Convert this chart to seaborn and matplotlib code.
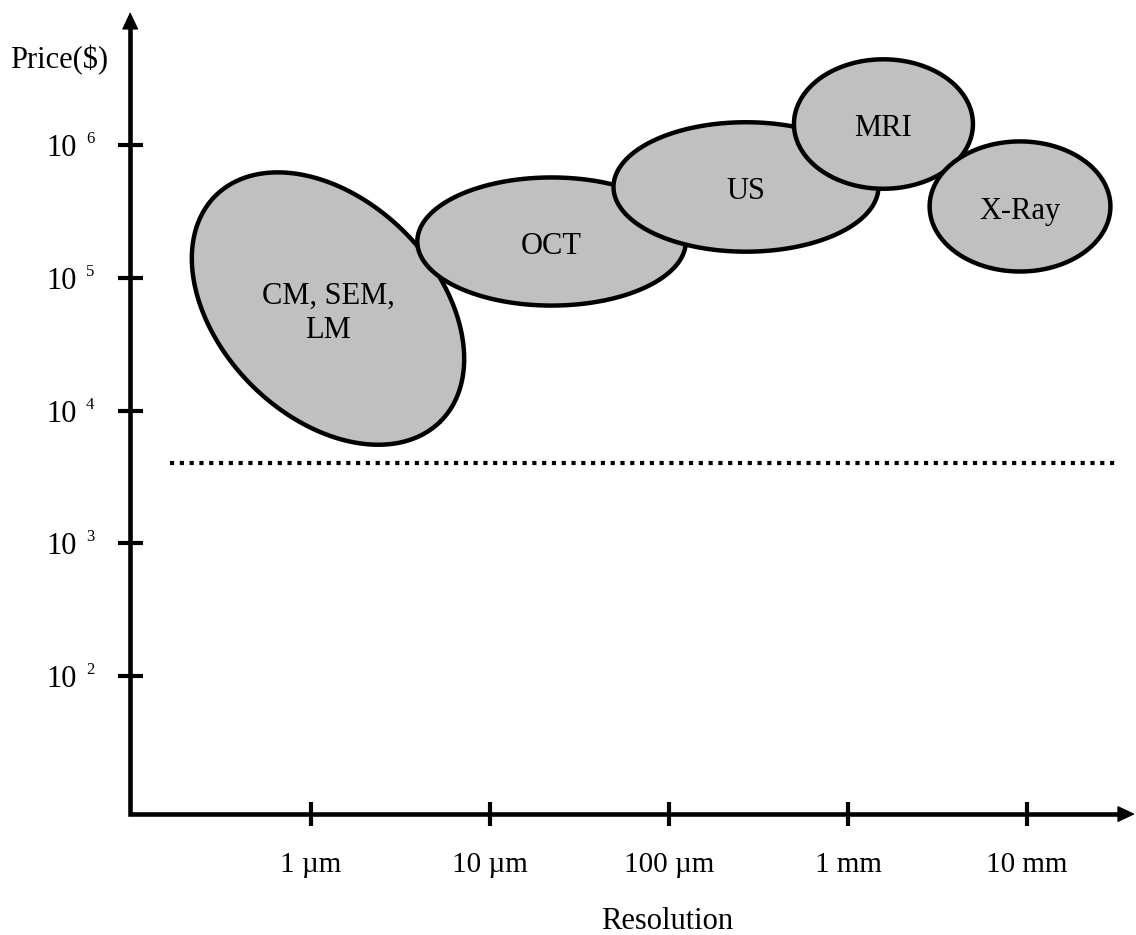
import numpy as np
import matplotlib
matplotlib.use("Agg")
import matplotlib.pyplot as plt
import seaborn as sns
from matplotlib.patches import Polygon

# Resolution axis in decades relative to 1 µm
res_ticks = [0, 1, 2, 3, 4]
res_labels = ["1 µm", "10 µm", "100 µm", "1 mm", "10 mm"]
# Price axis in decades of dollars
price_ticks = [6, 5, 4, 3, 2]

# Imaging modalities: centre, extent (in decades) and tilt of each region
modalities = ["CM, SEM,\nLM", "OCT", "US", "MRI", "X-Ray"]
center_res = [0.095, 1.344, 2.430, 3.198, 3.961]
center_price = [4.768, 5.273, 5.684, 6.158, 5.537]
span_res = [1.78, 1.50, 1.48, 1.00, 1.01]
span_price = [1.63, 0.965, 0.975, 0.975, 0.98]
tilt_deg = [-45, 0, 0, 0, 0]

# Affordability threshold
price_floor = 4000
floor_res = [-0.788, 4.51]

# Axis frame
axis_origin = (-1.01, 0.96)
axis_tip_res = 4.603
axis_tip_price = 7.002

sns.set_theme(style="white")
plt.rcParams["font.family"] = ["Liberation Serif", "DejaVu Serif"]
plt.rcParams["text.color"] = "black"

fig = plt.figure(figsize=(11.36, 9.35), dpi=100)
ax = fig.add_axes([0, 0, 1, 1])
ax.set_xlim(-1.7374, 4.6089)
ax.set_ylim(0.049, 7.0923)
ax.axis("off")

FS = 22
GREY = "#c0c0c0"


def ellipse_outline(cx, cy, w, h, angle, n=400):
    """Ellipse given in data decades, rotated in screen space."""
    p0 = ax.transData.transform((0, 0))
    sx = ax.transData.transform((1, 0))[0] - p0[0]
    sy = ax.transData.transform((0, 1))[1] - p0[1]
    t = np.linspace(0, 2 * np.pi, n)
    a = w / 2 * sx
    b = h / 2 * sy
    th = np.deg2rad(angle)
    dx = a * np.cos(t) * np.cos(th) - b * np.sin(t) * np.sin(th)
    dy = a * np.cos(t) * np.sin(th) + b * np.sin(t) * np.cos(th)
    return np.column_stack([cx + dx / sx, cy + dy / sy])


for i, name in enumerate(modalities):
    pts = ellipse_outline(center_res[i], center_price[i], span_res[i],
                          span_price[i], tilt_deg[i])
    ax.add_patch(Polygon(pts, closed=True, facecolor=GREY, edgecolor="black",
                         linewidth=3.2, zorder=2 + i))
    ax.annotate(name, xy=(center_res[i], center_price[i]), xytext=(0, -3.5),
                textcoords="offset points", ha="center", va="center",
                fontsize=FS, linespacing=1.2, zorder=10, color="black")

# Dotted threshold line
sns.lineplot(x=floor_res, y=[np.log10(price_floor)] * 2, ax=ax, color="black",
             linewidth=3, linestyle=(0, (1.0, 1.35)), zorder=1)

# Axis lines
x0, y0 = axis_origin
ax.plot([x0, x0, axis_tip_res - 0.05], [axis_tip_price - 0.08, y0, y0],
        color="black", linewidth=3.3, solid_joinstyle="miter",
        solid_capstyle="butt", zorder=20)
arrow = dict(arrowstyle="-|>,head_length=0.55,head_width=0.26",
             mutation_scale=20, color="black", lw=1, shrinkA=0, shrinkB=0)
ax.annotate("", xy=(x0, axis_tip_price), xytext=(x0, axis_tip_price - 0.3),
            arrowprops=arrow, zorder=21)
ax.annotate("", xy=(axis_tip_res, y0), xytext=(axis_tip_res - 0.3, y0),
            arrowprops=arrow, zorder=21)

# Tick marks
ax.plot([x0] * len(price_ticks), price_ticks, ls="none", marker="_", ms=18,
        mew=3, color="black", zorder=21)
ax.plot(res_ticks, [y0] * len(res_ticks), ls="none", marker="|", ms=17,
        mew=3, color="black", zorder=21)

# Tick labels
for p in price_ticks:
    ax.text(-1.307, p - 0.083, "10", ha="right", va="baseline", fontsize=FS)
    ax.text(-1.257, p + 0.015, str(p), ha="left", va="baseline", fontsize=12)
for r, lab in zip(res_ticks, res_labels):
    ax.text(r, 0.5235, lab, ha="center", va="baseline", fontsize=21)

# Axis titles
ax.text(-1.682, 6.58, "Price($)", ha="left", va="baseline", fontsize=FS)
ax.text(1.99, 0.094, "Resolution", ha="center", va="baseline", fontsize=FS)

fig.savefig("out.png", dpi=100)
